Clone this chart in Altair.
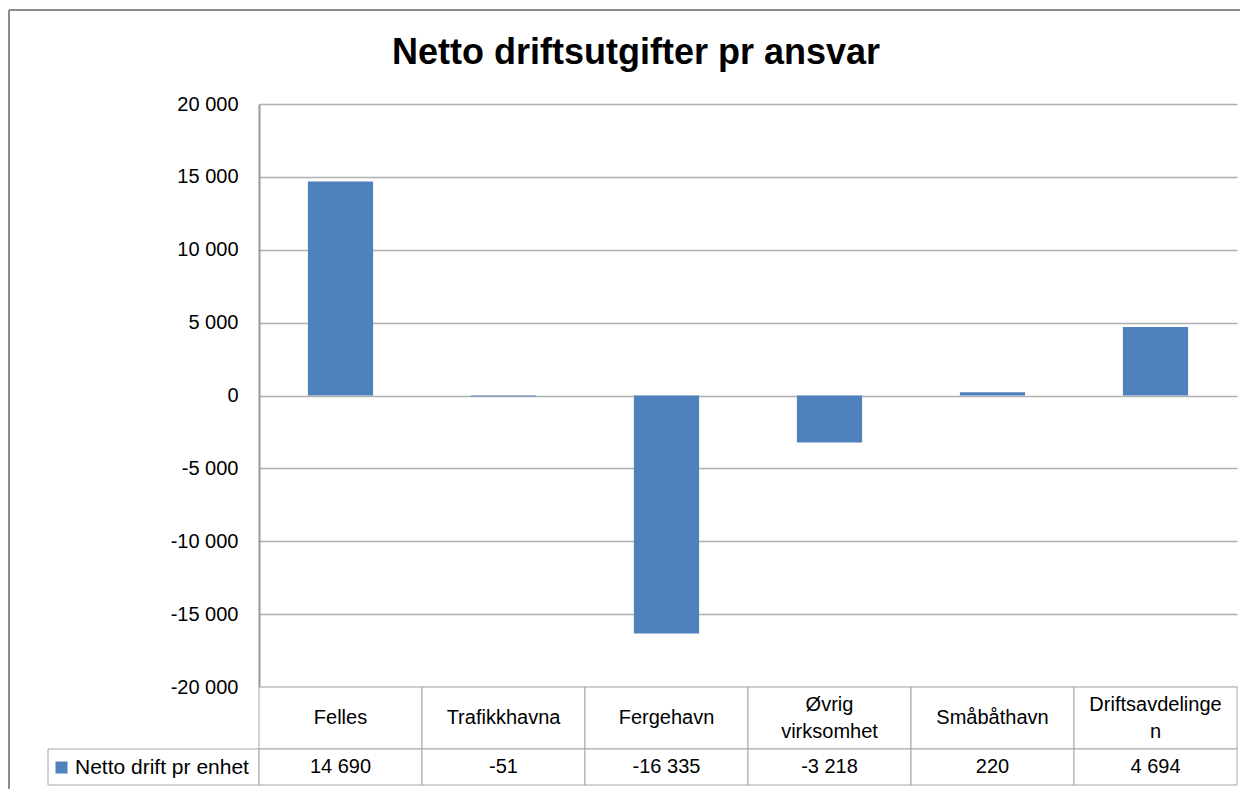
import altair as alt
import pandas as pd

# ---- data ----
categories = ["Felles", "Trafikkhavna", "Fergehavn", "Øvrig virksomhet", "Småbåthavn", "Driftsavdelingen"]
table_labels = ["Felles", "Trafikkhavna", "Fergehavn", "Øvrig\nvirksomhet", "Småbåthavn", "Driftsavdelinge\nn"]
values = [14690, -51, -16335, -3218, 220, 4694]
series_name = "Netto drift pr enhet"
y_ticks = [-20000, -15000, -10000, -5000, 0, 5000, 10000, 15000, 20000]
chart_title = "Netto driftsutgifter pr ansvar"

df = pd.DataFrame({
    "kategori": categories,
    "etikett": table_labels,
    "verdi": values,
    "serie": [series_name] * len(categories),
})
deco = pd.DataFrame({"k": [0]})

FONT = "Liberation Sans"
BLUE = "#4F81BD"
GRID = "#b0b0b0"
AXIS = "#9a9a9a"
BORDER = "#a6a6a6"
FRAME = "#8c8c8c"

PLOT_W, PLOT_H = 978, 583
CAT_H, VAL_H = 62, 36
LINE_H = 27

# ---- bar chart ----
x_bars = alt.X("kategori:N", sort=categories, axis=None,
               scale=alt.Scale(paddingInner=0.6, paddingOuter=0.3))

bars = alt.Chart(df).mark_bar().encode(
    x=x_bars,
    y=alt.Y("verdi:Q", title=None,
            scale=alt.Scale(domain=[-20000, 20000], nice=False),
            axis=alt.Axis(values=y_ticks, format=",d", ticks=False, labelPadding=21,
                          labelFont=FONT, labelFontSize=20, labelColor="black",
                          domainColor=AXIS, domainWidth=2,
                          gridColor=GRID, gridWidth=1.5)),
    color=alt.Color("serie:N", scale=alt.Scale(domain=[series_name], range=[BLUE]),
                    legend=alt.Legend(title=None, orient="none", legendX=-208, legendY=653,
                                      symbolType="square", symbolSize=144, symbolStrokeWidth=0,
                                      labelFont=FONT, labelFontSize=21, labelColor="black",
                                      labelOffset=3, labelLimit=400, padding=0)),
)

frame_top = alt.Chart(deco).mark_rule(color=FRAME, strokeWidth=2).encode(
    x=alt.value(-250), x2=alt.value(981), y=alt.value(-94))
frame_left = alt.Chart(deco).mark_rule(color=FRAME, strokeWidth=2).encode(
    x=alt.value(-250), y=alt.value(-94), y2=alt.value(686))

top = alt.layer(frame_top, frame_left, bars).properties(width=PLOT_W, height=PLOT_H)

# ---- data table ----
x_table = alt.X("kategori:N", sort=categories, axis=None,
                scale=alt.Scale(paddingInner=0, paddingOuter=0))

cat_cells = alt.Chart(df).mark_rect(fill="white", stroke=BORDER, strokeWidth=1).encode(x=x_table)
cat_text_one = alt.Chart(df).transform_filter(
    "indexof(datum.etikett, '\\n') < 0"
).mark_text(font=FONT, fontSize=20, color="black", baseline="middle").encode(
    x=x_table, text="etikett:N")
cat_text_two = alt.Chart(df).transform_filter(
    "indexof(datum.etikett, '\\n') >= 0"
).mark_text(font=FONT, fontSize=20, color="black", lineBreak="\n", lineHeight=LINE_H,
            baseline="middle", dy=-LINE_H / 2).encode(
    x=x_table, text="etikett:N")
cat_row = alt.layer(cat_cells, cat_text_one, cat_text_two).properties(width=PLOT_W, height=CAT_H)

val_cells = alt.Chart(df).mark_rect(fill="white", stroke=BORDER, strokeWidth=1).encode(x=x_table)
legend_cell = alt.Chart(deco).mark_rect(fill="white", stroke=BORDER, strokeWidth=1).encode(
    x=alt.value(-211), x2=alt.value(0))
val_text = alt.Chart(df).mark_text(font=FONT, fontSize=20, color="black", baseline="middle").encode(
    x=x_table, text=alt.Text("verdi:Q", format=",d"))
val_row = alt.layer(legend_cell, val_cells, val_text).properties(width=PLOT_W, height=VAL_H)

chart = alt.vconcat(top, cat_row, val_row, spacing=0, bounds="flush").resolve_scale(
    x="independent"
).properties(
    title=alt.TitleParams(text=chart_title, font=FONT, fontSize=36, fontWeight="bold",
                          color="black", anchor="middle", frame="group", dx=-112,
                          baseline="alphabetic", offset=-91),
    autosize=alt.AutoSizeParams(type="pad"),
    padding={"left": 0, "top": 1, "right": 0, "bottom": 0},
).configure(
    locale=alt.Locale(number=alt.NumberLocale(decimal=",", thousands=" ", grouping=[3],
                                              currency=["", " kr"], minus="-")),
).configure_view(strokeWidth=0)

chart.save("out.html", embed_options={"renderer": "svg", "actions": False})
